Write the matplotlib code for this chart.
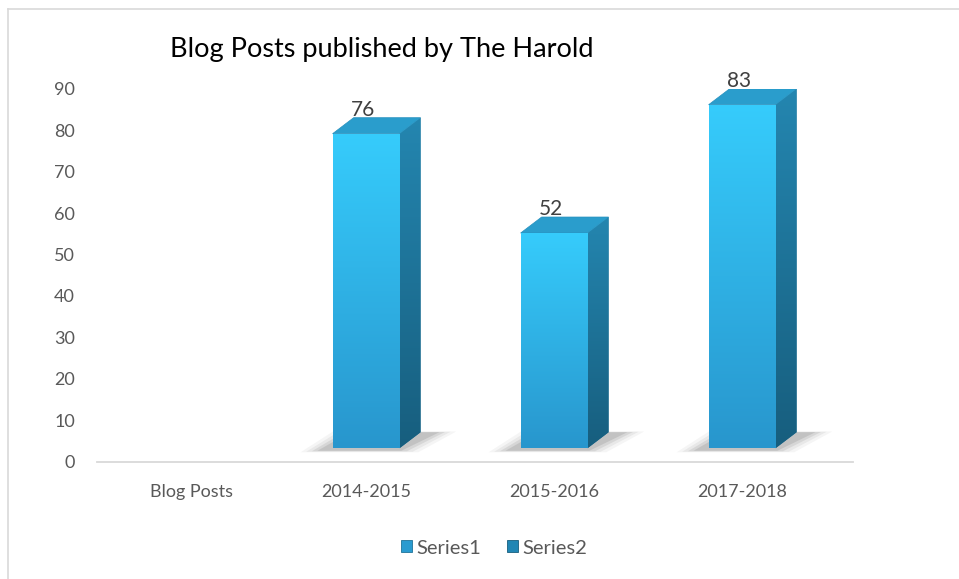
import numpy as np
import matplotlib
matplotlib.use('Agg')
import matplotlib.pyplot as plt
from matplotlib.patches import Polygon, Rectangle, Patch
from matplotlib.lines import Line2D
from matplotlib.colors import LinearSegmentedColormap
import matplotlib.transforms as mtransforms

# ---- data ----
categories = ['Blog Posts', '2014-2015', '2015-2016', '2017-2018']
values = [None, 76, 52, 83]
series_names = ['Series1', 'Series2']
yticks = list(range(0, 100, 10))
title = 'Blog Posts published by The Harold'

plt.rcParams['font.family'] = ['Lato', 'DejaVu Sans']

W, H = 959, 579
fig = plt.figure(figsize=(W / 100, H / 100), dpi=100)
fig.patch.set_facecolor('white')
ax = fig.add_axes([97 / W, (H - 461.5) / H, 756 / W, (461.5 - 89) / H])
ax.set_facecolor('none')

# 3-D look parameters (style)
bar_w = 0.356
dx = 0.112
dy = 3.87
lift = 3.2

front_cmap = LinearSegmentedColormap.from_list('front', ['#2896CD', '#36CCFC'])
side_cmap = LinearSegmentedColormap.from_list('side', ['#175E7E', '#2486B0'])
grad = np.linspace(0, 1, 256).reshape(-1, 1)

x = np.arange(len(categories))
for i, v in zip(x, values):
    if v is None:
        continue
    x0, x1 = i - bar_w / 2, i + bar_w / 2
    y0, y1 = lift, lift + v
    # soft shadow on the floor
    for k, a in enumerate([0.05, 0.07, 0.1, 0.13]):
        g = (3 - k) * 0.03
        sh = Polygon([(x0 - 0.08 - g, y0 - 0.6 - g * 4), (x1 + 0.01 + g, y0 - 0.6 - g * 4),
                      (x1 + dx + 0.1 + g, y0 + dy + g * 2), (x0 + dx - 0.02 - g, y0 + dy + g * 2)],
                     closed=True, facecolor='#404040', edgecolor='none', alpha=a, zorder=1)
        ax.add_patch(sh)
    # side face
    side = Polygon([(x1, y0), (x1 + dx, y0 + dy), (x1 + dx, y1 + dy), (x1, y1)],
                   closed=True, facecolor='#1F7399', edgecolor='none', zorder=2)
    ax.add_patch(side)
    im = ax.imshow(grad, extent=(x1, x1 + dx, y0, y1 + dy), origin='lower', cmap=side_cmap,
                   aspect='auto', zorder=2.1)
    im.set_clip_path(side)
    # top face
    top = Polygon([(x0, y1), (x1, y1), (x1 + dx, y1 + dy), (x0 + dx, y1 + dy)],
                  closed=True, facecolor='#2A9DCC', edgecolor='#2590BE', linewidth=0.5, zorder=3)
    ax.add_patch(top)
    # front face
    front = Rectangle((x0, y0), bar_w, v, facecolor='#2FB4E8', edgecolor='none', zorder=4)
    ax.add_patch(front)
    im2 = ax.imshow(grad, extent=(x0, x1, y0, y1), origin='lower', cmap=front_cmap,
                    aspect='auto', zorder=4.1)
    im2.set_clip_path(front)
    # data label
    ax.text(i - 0.015, y1 + dy + 0.4, str(v), ha='center', va='baseline',
            fontsize=15, color='#404040', zorder=6, clip_on=False)

ax.set_xlim(-0.431, 3.59)
ax.set_ylim(0, 90)
ax.set_yticks(yticks)
ax.set_yticklabels([str(t) for t in yticks])
ax.set_xticks(x)
ax.set_xticklabels(categories)
ax.tick_params(axis='both', length=0, labelsize=13, colors='#595959')
ax.tick_params(axis='y', pad=16)
ax.tick_params(axis='x', pad=16)
for s in ['left', 'right', 'top']:
    ax.spines[s].set_visible(False)
ax.spines['bottom'].set_color('#D9D9D9')
ax.spines['bottom'].set_linewidth(1.3)

# first category label sits slightly right in the original perspective layout
lab0 = ax.get_xticklabels()[0]
lab0.set_transform(lab0.get_transform() + mtransforms.ScaledTranslation(13.5 / 100, 0, fig.dpi_scale_trans))

# title
fig.text(170 / W, 1 - 50 / H, title, ha='left', va='center', fontsize=19.5, color='#000000')

# legend
handles = [Patch(facecolor='#2A9BD0', edgecolor='#1F7399', linewidth=0.6),
           Patch(facecolor='#2186B4', edgecolor='#175E7E', linewidth=0.6)]
fig.legend(handles, series_names, loc='center', bbox_to_anchor=(494 / W, 1 - 548 / H),
           ncol=2, frameon=False, fontsize=14.5, labelcolor='#595959',
           handlelength=0.55, handleheight=0.55, handletextpad=0.2, columnspacing=1.3)

# chart border
fig.add_artist(Line2D([8 / W, 1], [1 - 9 / H, 1 - 9 / H], transform=fig.transFigure,
                      color='#D9D9D9', linewidth=1.2))
fig.add_artist(Line2D([8 / W, 8 / W], [0, 1 - 9 / H], transform=fig.transFigure,
                      color='#D9D9D9', linewidth=1.2))

fig.savefig('out.png', dpi=100)
